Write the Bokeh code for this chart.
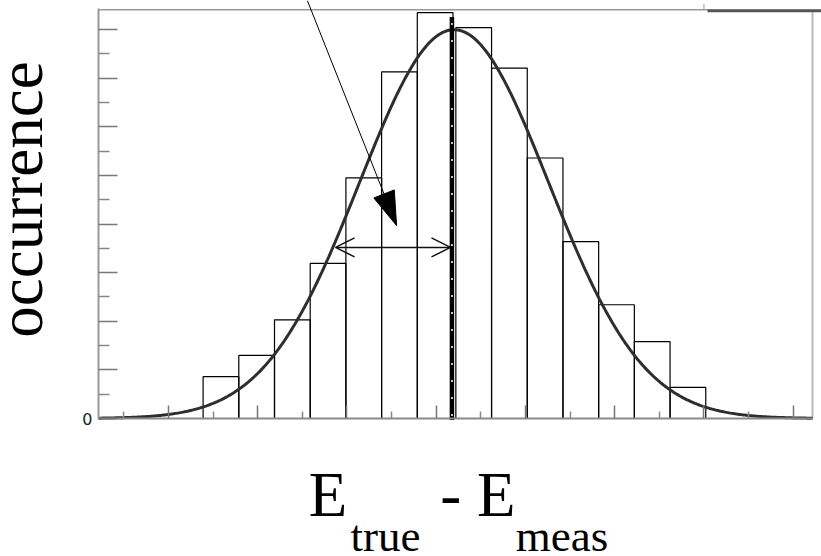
import numpy as np
from bokeh.plotting import figure
from bokeh.models import Range1d, FixedTicker, Label, Arrow, OpenHead
from bokeh.embed import file_html
from bokeh.resources import INLINE

# Histogram of E_true - E_meas (bins of width 1, lower edges)
bin_lo = [-7, -6, -5, -4, -3, -2, -1, 0.08, 1.08, 2.08, 3.08, 4.08, 5.08, 6.08]
counts = [8.6, 13.0, 20.3, 31.9, 49.5, 71.3, 83.5, 80.4, 72.1, 53.6, 36.4, 23.4, 15.8, 6.4]
bin_width = 1.0

# Gaussian fitted to the histogram
fit_amp = 80.0
fit_mean = 0.03
fit_sigma = 2.65

# Axis ticks
x_major = [-7.97, -5.47, -2.97, -0.47, 2.03, 4.53, 7.03, 9.53]
x_minor = [-9.22, -6.72, -4.22, -1.72, 0.78, 3.28, 5.78, 8.28]
y_major = [0, 10, 20, 30, 40, 50, 60, 70, 80]
y_minor = [5, 15, 25, 35, 45, 55, 65, 75]

# Annotations
mean_x = -0.03
width_arrow = (-3.29, -0.07, 35.2)          # x_start, x_end, y
pointer_start = (-4.08, 86.0)
pointer_tip = (-1.58, 39.7)

# Canvas geometry: the data ranges span the whole canvas, the axes sit at
# fixed locations inside it so the titles can be placed around the box.
W, H = 821, 556
X_LO, X_HI = -12.675, 10.322
Y_LO, Y_HI = -28.39, 86.0
BOX_LEFT, BOX_RIGHT = -9.93, 10.07
BOX_TOP = 84.1

px_x = W / (X_HI - X_LO)
px_y = H / (Y_HI - Y_LO)

p = figure(width=W, height=H, output_backend="svg", toolbar_location=None,
           x_range=Range1d(X_LO, X_HI), y_range=Range1d(Y_LO, Y_HI),
           min_border=0, min_border_left=0, min_border_right=0,
           min_border_top=0, min_border_bottom=0,
           background_fill_color="white", border_fill_color="white")
p.outline_line_color = None
p.grid.visible = False

# --- axes: ticks drawn inward, only the zero label shown
xa = p.xaxis[0]
xa.fixed_location = 0
xa.ticker = FixedTicker(ticks=x_major, minor_ticks=x_minor)
xa.bounds = (BOX_LEFT, BOX_RIGHT)
xa.axis_line_color = "#8a8a8a"
xa.axis_line_width = 2
xa.major_tick_in, xa.major_tick_out = 13, 0
xa.minor_tick_in, xa.minor_tick_out = 7, 0
xa.major_tick_line_color = "#777777"
xa.minor_tick_line_color = "#888888"
xa.major_tick_line_width = 1.5
xa.minor_tick_line_width = 1.5
xa.major_label_text_color = None

ya = p.yaxis[0]
ya.fixed_location = BOX_LEFT
ya.ticker = FixedTicker(ticks=y_major, minor_ticks=y_minor)
ya.bounds = (0, 84.3)
ya.axis_line_color = "#9a9a9a"
ya.axis_line_width = 2
ya.major_tick_in, ya.major_tick_out = 19, 0
ya.minor_tick_in, ya.minor_tick_out = 11, 0
ya.major_tick_line_color = "#777777"
ya.minor_tick_line_color = "#888888"
ya.major_tick_line_width = 1.5
ya.minor_tick_line_width = 1.5
ya.major_label_overrides = {v: "" for v in y_major if v != 0}
ya.major_label_standoff = 6
ya.major_label_text_font = "DejaVu Sans"
ya.major_label_text_font_size = "16px"
ya.major_label_text_color = "#222222"

# --- box around the plot
p.segment(x0=[BOX_RIGHT], y0=[0], x1=[BOX_RIGHT], y1=[83.9],
          line_color="#bbbbbb", line_width=2)
p.segment(x0=[BOX_LEFT], y0=[BOX_TOP], x1=[7.16], y1=[BOX_TOP],
          line_color="#999999", line_width=1.5)
p.segment(x0=[7.13], y0=[83.9], x1=[X_HI], y1=[83.9],
          line_color="#555555", line_width=3)
p.segment(x0=[x_major[6]], y0=[BOX_TOP], x1=[x_major[6]], y1=[85.3],
          line_color="#999999", line_width=1)

# --- histogram bars
lo = np.array(bin_lo)
p.quad(left=lo, right=lo + bin_width, bottom=0, top=counts,
       fill_color=None, line_color="black", line_width=1.2)

# --- gaussian fit curve
xs = np.linspace(BOX_LEFT, BOX_RIGHT, 500)
ys = fit_amp * np.exp(-0.5 * ((xs - fit_mean) / fit_sigma) ** 2)
p.line(xs, ys, line_color="#2e2e2e", line_width=3)

# --- mean marker: thick black line with white dots
p.segment(x0=[mean_x], y0=[-0.3], x1=[mean_x], y1=[82.6],
          line_color="black", line_width=4.5)
p.segment(x0=[mean_x], y0=[0.5], x1=[mean_x], y1=[82.0],
          line_color="white", line_width=1.5, line_dash="2 15")

# --- width arrow (double-headed, open heads)
x0w, x1w, yw = width_arrow
p.add_layout(Arrow(x_start=x0w, y_start=yw, x_end=x1w, y_end=yw,
                   line_color="#111111", line_width=1.5,
                   start=OpenHead(size=19, line_color="#111111", line_width=1.5),
                   end=OpenHead(size=19, line_color="#111111", line_width=1.5)))

# --- pointer arrow from the top, with a filled head
sx, sy = pointer_start
tx, ty = pointer_tip
dxp, dyp = (tx - sx) * px_x, (ty - sy) * px_y
norm = np.hypot(dxp, dyp)
ux, uy = dxp / norm, dyp / norm
head_len, head_w = 34.0, 22.0
bx, by = -ux * head_len, -uy * head_len
c1 = (tx + (bx - uy * head_w / 2) / px_x, ty + (by + ux * head_w / 2) / px_y)
c2 = (tx + (bx + uy * head_w / 2) / px_x, ty + (by - ux * head_w / 2) / px_y)
base = (tx + bx / px_x, ty + by / px_y)
p.segment(x0=[sx], y0=[sy], x1=[base[0]], y1=[base[1]],
          line_color="black", line_width=1)
p.patch([tx, c1[0], c2[0]], [ty, c1[1], c2[1]],
        fill_color="black", line_color="black", line_width=1)

# --- texts
serif = "Liberation Serif"
p.add_layout(Label(x=-12.09, y=45.06, text="occurrence", angle=90, angle_units="deg",
                   text_align="center", text_baseline="alphabetic",
                   text_font=serif, text_font_size="63px", text_color="black"))
p.add_layout(Label(x=-4.04, y=-15.84, text="E", text_align="left",
                   text_baseline="alphabetic", text_font=serif,
                   text_font_size="63px", text_color="black"))
p.add_layout(Label(x=-2.87, y=-24.13, text="true", text_align="left",
                   text_baseline="alphabetic", text_font=serif,
                   text_font_size="45px", text_color="black"))
p.add_layout(Label(x=-0.36, y=-15.84, text="- E", text_align="left",
                   text_baseline="alphabetic", text_font=serif,
                   text_font_size="63px", text_color="black"))
p.add_layout(Label(x=1.76, y=-24.13, text="meas", text_align="left",
                   text_baseline="alphabetic", text_font=serif,
                   text_font_size="45px", text_color="black"))

open("out.html", "w").write(file_html(p, INLINE))
